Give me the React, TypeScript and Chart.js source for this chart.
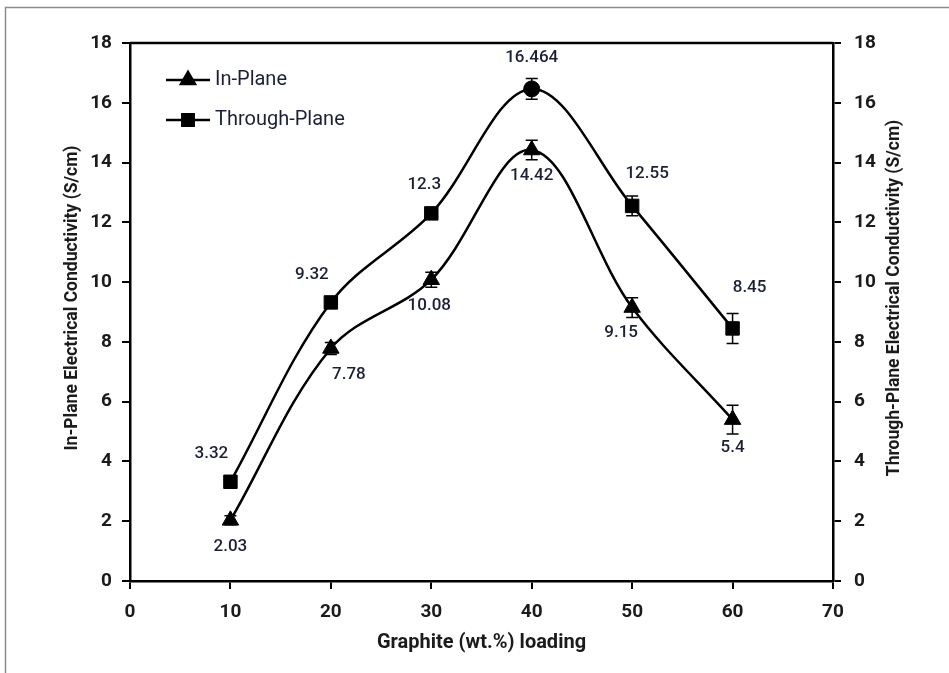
import { useEffect, useRef } from "react";
import { Chart, registerables } from "chart.js";
import { drawPoint } from "chart.js/helpers";

Chart.register(...registerables);

// ---- data ----
const loadings = [10, 20, 30, 40, 50, 60];
const inPlane = [2.03, 7.78, 10.08, 14.42, 9.15, 5.4];
const throughPlane = [3.32, 9.32, 12.3, 16.464, 12.55, 8.45];
const inPlaneErr = [0.15, 0.2, 0.25, 0.33, 0.33, 0.48];
const throughPlaneErr = [0.08, 0.1, 0.1, 0.35, 0.33, 0.5];
const seriesNames = ["In-Plane", "Through-Plane"];
const xTitle = "Graphite (wt.%) loading";
const yTitle = "In-Plane Electrical Conductivity (S/cm)";
const y2Title = "Through-Plane Electrical Conductivity (S/cm)";
const xRange = [0, 70, 10];
const yRange = [0, 18, 2];

// ---- styles (label offsets in px relative to each point) ----
const inPlaneLabelOffsets = [[0, 26], [18, 26], [-2, 26], [0, 26], [-11, 25], [0, 28]];
const throughLabelOffsets = [[-19, -28], [-19, -28], [-7, -29], [0, -31], [15, -32], [17, -41]];
const throughStyles = ["rect", "rect", "rect", "circle", "rect", "rect"];
const throughRadii = [9.5, 9.5, 9.5, 8, 9.5, 9.5];

const FONT = "Roboto, 'Liberation Sans', 'DejaVu Sans', sans-serif";
const TEXT = "#1b1b1b";
const LABEL = "#1c2036";

const extras = {
  id: "extras",
  beforeDraw(chart: any) {
    const { ctx, width, height } = chart;
    ctx.save();
    ctx.fillStyle = "#ffffff";
    ctx.fillRect(0, 0, width, height);
    ctx.strokeStyle = "#8c8c8c";
    ctx.lineWidth = 1.5;
    ctx.beginPath();
    ctx.moveTo(width, 7.5);
    ctx.lineTo(5.5, 7.5);
    ctx.lineTo(5.5, height);
    ctx.stroke();
    ctx.restore();
  },
  afterDatasetsDraw(chart: any) {
    const { ctx, chartArea } = chart;
    const x = chart.scales.x;
    ctx.save();
    ctx.strokeStyle = "#000";
    ctx.lineWidth = 2.5;
    ctx.beginPath();
    ctx.moveTo(chartArea.left, chartArea.top);
    ctx.lineTo(chartArea.right, chartArea.top);
    ctx.stroke();

    const sets = [
      { vals: inPlane, errs: inPlaneErr, scale: chart.scales.y, offs: inPlaneLabelOffsets },
      { vals: throughPlane, errs: throughPlaneErr, scale: chart.scales.y2, offs: throughLabelOffsets },
    ];
    ctx.lineWidth = 1.5;
    ctx.strokeStyle = "#000";
    sets.forEach((s) => {
      s.vals.forEach((v, i) => {
        const px = x.getPixelForValue(loadings[i]);
        const t = s.scale.getPixelForValue(v + s.errs[i]);
        const b = s.scale.getPixelForValue(v - s.errs[i]);
        ctx.beginPath();
        ctx.moveTo(px, t);
        ctx.lineTo(px, b);
        ctx.moveTo(px - 6, t);
        ctx.lineTo(px + 6, t);
        ctx.moveTo(px - 6, b);
        ctx.lineTo(px + 6, b);
        ctx.stroke();
      });
    });
    ctx.font = `500 17px ${FONT}`;
    ctx.fillStyle = LABEL;
    ctx.textAlign = "center";
    ctx.textBaseline = "middle";
    sets.forEach((s) => {
      s.vals.forEach((v, i) => {
        const px = x.getPixelForValue(loadings[i]);
        const py = s.scale.getPixelForValue(v);
        ctx.fillText(String(v), px + s.offs[i][0], py + s.offs[i][1]);
      });
    });
    ctx.restore();
  },
  afterDraw(chart: any) {
    const { ctx, chartArea } = chart;
    ctx.save();
    const lx = 166;
    const ly = [80, 120];
    chart.data.datasets.forEach((ds: any, i: number) => {
      ctx.strokeStyle = "#000";
      ctx.lineWidth = 2.5;
      ctx.beginPath();
      ctx.moveTo(lx, ly[i]);
      ctx.lineTo(lx + 44, ly[i]);
      ctx.stroke();
      ctx.fillStyle = "#000";
      const style = Array.isArray(ds.pointStyle) ? ds.pointStyle[0] : ds.pointStyle;
      const r = Array.isArray(ds.pointRadius) ? ds.pointRadius[0] : ds.pointRadius;
      drawPoint(ctx, { pointStyle: style, radius: r * 0.85, borderWidth: 1, rotation: 0 }, lx + 22, ly[i]);
      ctx.fillStyle = LABEL;
      ctx.font = `20px ${FONT}`;
      ctx.textAlign = "left";
      ctx.textBaseline = "middle";
      ctx.fillText(ds.label, lx + 49, ly[i]);
    });
    const cy = (chartArea.top + chartArea.bottom) / 2 - 14;
    ctx.font = `bold 17.5px ${FONT}`;
    ctx.fillStyle = TEXT;
    ctx.textAlign = "center";
    ctx.textBaseline = "middle";
    [[chartArea.left - 57, yTitle], [chartArea.right + 62, y2Title]].forEach(([tx, txt]: any) => {
      ctx.save();
      ctx.translate(tx, cy);
      ctx.rotate(-Math.PI / 2);
      ctx.fillText(txt, 0, 0);
      ctx.restore();
    });
    ctx.restore();
  },
};

export default function App() {
  const ref = useRef<HTMLCanvasElement>(null);
  useEffect(() => {
    if (!ref.current) return;
    const tickFont = { family: FONT, size: 19, weight: "bold" as const };
    const chart = new Chart(ref.current, {
      type: "line",
      data: {
        datasets: [
          {
            label: seriesNames[0],
            data: loadings.map((l, i) => ({ x: l, y: inPlane[i] })),
            yAxisID: "y",
            borderColor: "#000",
            borderWidth: 2.5,
            backgroundColor: "#000",
            pointStyle: "triangle",
            pointRadius: 9.5,
            pointBorderWidth: 1,
            pointBackgroundColor: "#000",
            pointBorderColor: "#000",
            tension: 0.35,
            fill: false,
          },
          {
            label: seriesNames[1],
            data: loadings.map((l, i) => ({ x: l, y: throughPlane[i] })),
            yAxisID: "y2",
            borderColor: "#000",
            borderWidth: 2.5,
            backgroundColor: "#000",
            pointStyle: throughStyles as any,
            pointRadius: throughRadii,
            pointBorderWidth: 1,
            pointBackgroundColor: "#000",
            pointBorderColor: "#000",
            tension: 0.35,
            fill: false,
          },
        ],
      },
      options: {
        responsive: false,
        animation: false,
        devicePixelRatio: 1,
        layout: { padding: { left: 0, right: 0, top: 43, bottom: 18 } },
        plugins: { legend: { display: false }, tooltip: { enabled: false } },
        scales: {
          x: {
            type: "linear",
            min: xRange[0],
            max: xRange[1],
            ticks: { stepSize: xRange[2], font: tickFont, color: TEXT, padding: 12 },
            grid: { drawOnChartArea: false, drawTicks: true, tickLength: 8, color: "#000", lineWidth: 2 },
            border: { display: true, color: "#000", width: 2.5 },
            title: {
              display: true,
              text: xTitle,
              font: { family: FONT, size: 20, weight: "bold" },
              color: TEXT,
              padding: { top: 4, bottom: 0 },
            },
            afterFit: (s: any) => {
              s.height = 74;
            },
          },
          y: {
            type: "linear",
            position: "left",
            min: yRange[0],
            max: yRange[1],
            ticks: { stepSize: yRange[2], font: tickFont, color: TEXT, padding: 10 },
            grid: { drawOnChartArea: false, drawTicks: true, tickLength: 8, color: "#000", lineWidth: 2 },
            border: { display: true, color: "#000", width: 2.5 },
            afterFit: (s: any) => {
              s.width = 130;
            },
          },
          y2: {
            type: "linear",
            position: "right",
            min: yRange[0],
            max: yRange[1],
            ticks: { stepSize: yRange[2], font: tickFont, color: TEXT, padding: 13 },
            grid: { drawOnChartArea: false, drawTicks: true, tickLength: 8, color: "#000", lineWidth: 2 },
            border: { display: true, color: "#000", width: 2.5 },
            afterFit: (s: any) => {
              s.width = 116;
            },
          },
        },
      },
      plugins: [extras],
    });
    return () => chart.destroy();
  }, []);
  return (
    <div style={{ position: "absolute", left: 0, top: 0, width: 949, height: 673 }}>
      <canvas ref={ref} width={949} height={673} style={{ display: "block" }} />
    </div>
  );
}
